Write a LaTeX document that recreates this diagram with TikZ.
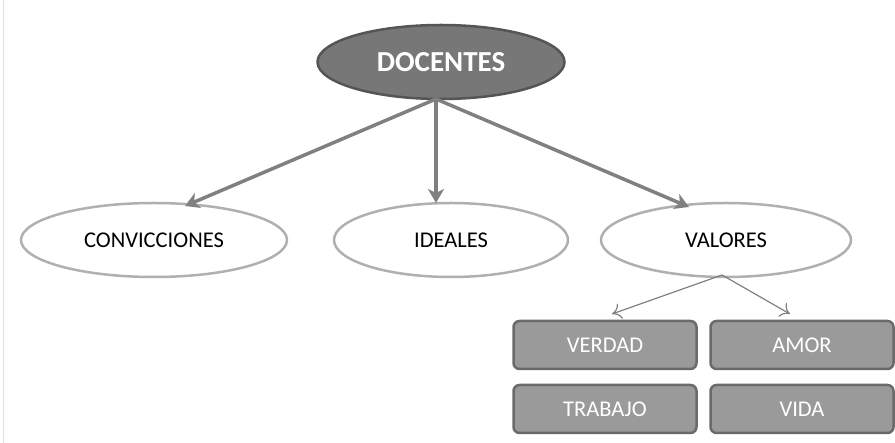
\documentclass[tikz,border=0pt]{standalone}
\usepackage{fontspec}
\setmainfont{Carlito}
\usetikzlibrary{arrows.meta,shapes.geometric}
\definecolor{topfill}{HTML}{777777}
\definecolor{topdraw}{HTML}{555555}
\definecolor{ellline}{HTML}{B0B0B0}
\definecolor{arrowgray}{HTML}{808080}
\definecolor{boxfill}{HTML}{9A9A9A}
\definecolor{boxdraw}{HTML}{6A6A6A}
\tikzset{
  topnode/.style={ellipse, draw=topdraw, line width=2.5pt, fill=topfill, minimum width=247pt, minimum height=74pt, inner sep=0pt, text=white, font=\fontsize{29}{32}\selectfont\bfseries},
  midnode/.style={ellipse, draw=ellline, line width=2.5pt, fill=white, minimum height=74pt, inner sep=0pt, text=black, font=\fontsize{22.5}{26}\selectfont},
  valbox/.style={rectangle, rounded corners=6pt, draw=boxdraw, line width=2.5pt, fill=boxfill, minimum width=183pt, minimum height=48pt, inner sep=0pt, text=white, font=\fontsize{22.5}{26}\selectfont},
  bigarrow/.style={draw=arrowgray, line width=3.5pt, -{Stealth[length=14pt,width=16pt,inset=4pt]}},
  smallarrow/.style={draw=arrowgray, line width=1.2pt, -{To[length=9pt,width=16pt]}}
}
\begin{document}
\begin{tikzpicture}[x=1pt,y=-1pt]
\useasboundingbox (0,0) rectangle (895,443);
\draw[draw=black!12, line width=1pt] (3,0) -- (3,443);
\node[topnode] (doc) at (441,62) {DOCENTES};
\node[midnode, minimum width=266pt] (conv) at (154,240) {CONVICCIONES};
\node[midnode, minimum width=234pt] (ideal) at (451,240) {IDEALES};
\node[midnode, minimum width=250pt] (val) at (726,240) {VALORES};
\node[valbox] (verdad) at (605,345) {VERDAD};
\node[valbox] (amor) at (802,345) {AMOR};
\node[valbox] (trabajo) at (605,409) {TRABAJO};
\node[valbox] (vida) at (802,409) {VIDA};
\coordinate (dsrc) at (436,99);
\coordinate (tconv) at (185,206);
\coordinate (tideal) at (436,203);
\coordinate (tval) at (689,207);
\draw[bigarrow] (dsrc) -- (tconv);
\draw[bigarrow] (dsrc) -- (tideal);
\draw[bigarrow] (dsrc) -- (tval);
\coordinate (vsrc) at (722,275);
\coordinate (tverdad) at (612,314);
\coordinate (tamor) at (790,314);
\draw[smallarrow] (vsrc) -- (tverdad);
\draw[smallarrow] (vsrc) -- (tamor);
\end{tikzpicture}
\end{document}
